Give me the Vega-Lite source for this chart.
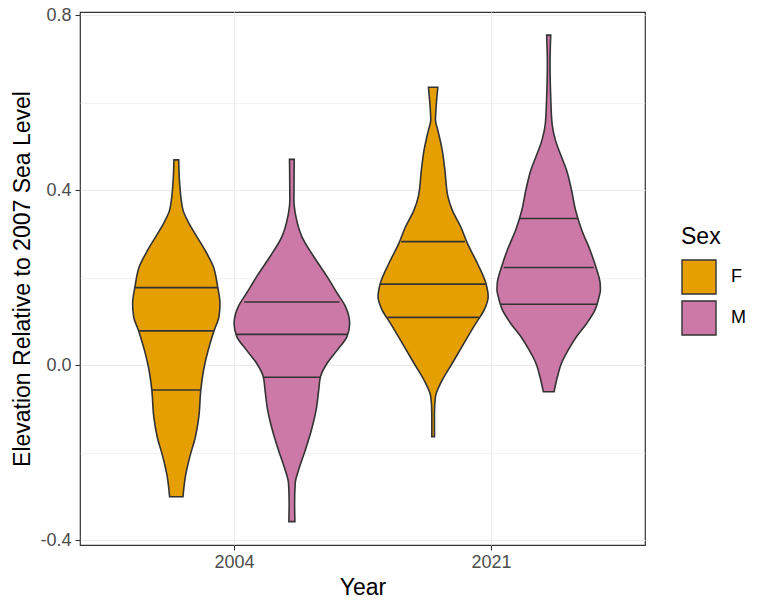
{
  "$schema": "https://vega.github.io/schema/vega-lite/v6.json",
  "width": 565,
  "height": 533,
  "autosize": "none",
  "padding": {"left": 80, "top": 12, "right": 123, "bottom": 69},
  "background": "white",
  "config": {
    "font": "Liberation Sans",
    "view": {"stroke": "#333333", "strokeWidth": 1.2},
    "axis": {
      "domain": false,
      "gridColor": "#ebebeb",
      "tickColor": "#333333",
      "tickSize": 5,
      "tickWidth": 1.1,
      "labelColor": "#4d4d4d",
      "labelFontSize": 18,
      "titleFontSize": 23,
      "titleFontWeight": "normal",
      "titleColor": "#000000"
    }
  },
  "datasets": {
    "violin": [
      {"Year": "2004", "Sex": "F", "elev": 0.469, "density": 0.041},
      {"Year": "2004", "Sex": "F", "elev": 0.415, "density": 0.058},
      {"Year": "2004", "Sex": "F", "elev": 0.354, "density": 0.116},
      {"Year": "2004", "Sex": "F", "elev": 0.328, "density": 0.203},
      {"Year": "2004", "Sex": "F", "elev": 0.301, "density": 0.320},
      {"Year": "2004", "Sex": "F", "elev": 0.263, "density": 0.494},
      {"Year": "2004", "Sex": "F", "elev": 0.225, "density": 0.640},
      {"Year": "2004", "Sex": "F", "elev": 0.179, "density": 0.715},
      {"Year": "2004", "Sex": "F", "elev": 0.141, "density": 0.756},
      {"Year": "2004", "Sex": "F", "elev": 0.110, "density": 0.738},
      {"Year": "2004", "Sex": "F", "elev": 0.080, "density": 0.657},
      {"Year": "2004", "Sex": "F", "elev": 0.034, "density": 0.552},
      {"Year": "2004", "Sex": "F", "elev": -0.004, "density": 0.483},
      {"Year": "2004", "Sex": "F", "elev": -0.057, "density": 0.424},
      {"Year": "2004", "Sex": "F", "elev": -0.118, "density": 0.390},
      {"Year": "2004", "Sex": "F", "elev": -0.164, "density": 0.331},
      {"Year": "2004", "Sex": "F", "elev": -0.210, "density": 0.233},
      {"Year": "2004", "Sex": "F", "elev": -0.255, "density": 0.157},
      {"Year": "2004", "Sex": "F", "elev": -0.301, "density": 0.116},
      {"Year": "2004", "Sex": "M", "elev": 0.470, "density": 0.041},
      {"Year": "2004", "Sex": "M", "elev": 0.377, "density": 0.035},
      {"Year": "2004", "Sex": "M", "elev": 0.339, "density": 0.070},
      {"Year": "2004", "Sex": "M", "elev": 0.293, "density": 0.174},
      {"Year": "2004", "Sex": "M", "elev": 0.248, "density": 0.378},
      {"Year": "2004", "Sex": "M", "elev": 0.202, "density": 0.610},
      {"Year": "2004", "Sex": "M", "elev": 0.164, "density": 0.785},
      {"Year": "2004", "Sex": "M", "elev": 0.133, "density": 0.930},
      {"Year": "2004", "Sex": "M", "elev": 0.095, "density": 1.000},
      {"Year": "2004", "Sex": "M", "elev": 0.065, "density": 0.953},
      {"Year": "2004", "Sex": "M", "elev": 0.034, "density": 0.785},
      {"Year": "2004", "Sex": "M", "elev": 0.004, "density": 0.610},
      {"Year": "2004", "Sex": "M", "elev": -0.027, "density": 0.494},
      {"Year": "2004", "Sex": "M", "elev": -0.057, "density": 0.465},
      {"Year": "2004", "Sex": "M", "elev": -0.103, "density": 0.419},
      {"Year": "2004", "Sex": "M", "elev": -0.149, "density": 0.337},
      {"Year": "2004", "Sex": "M", "elev": -0.194, "density": 0.233},
      {"Year": "2004", "Sex": "M", "elev": -0.240, "density": 0.116},
      {"Year": "2004", "Sex": "M", "elev": -0.270, "density": 0.058},
      {"Year": "2004", "Sex": "M", "elev": -0.316, "density": 0.047},
      {"Year": "2004", "Sex": "M", "elev": -0.358, "density": 0.052},
      {"Year": "2021", "Sex": "F", "elev": 0.635, "density": 0.081},
      {"Year": "2021", "Sex": "F", "elev": 0.590, "density": 0.052},
      {"Year": "2021", "Sex": "F", "elev": 0.560, "density": 0.041},
      {"Year": "2021", "Sex": "F", "elev": 0.537, "density": 0.081},
      {"Year": "2021", "Sex": "F", "elev": 0.491, "density": 0.157},
      {"Year": "2021", "Sex": "F", "elev": 0.446, "density": 0.203},
      {"Year": "2021", "Sex": "F", "elev": 0.385, "density": 0.256},
      {"Year": "2021", "Sex": "F", "elev": 0.354, "density": 0.331},
      {"Year": "2021", "Sex": "F", "elev": 0.316, "density": 0.477},
      {"Year": "2021", "Sex": "F", "elev": 0.278, "density": 0.593},
      {"Year": "2021", "Sex": "F", "elev": 0.232, "density": 0.767},
      {"Year": "2021", "Sex": "F", "elev": 0.187, "density": 0.913},
      {"Year": "2021", "Sex": "F", "elev": 0.156, "density": 0.953},
      {"Year": "2021", "Sex": "F", "elev": 0.126, "density": 0.884},
      {"Year": "2021", "Sex": "F", "elev": 0.095, "density": 0.738},
      {"Year": "2021", "Sex": "F", "elev": 0.050, "density": 0.535},
      {"Year": "2021", "Sex": "F", "elev": 0.004, "density": 0.331},
      {"Year": "2021", "Sex": "F", "elev": -0.042, "density": 0.128},
      {"Year": "2021", "Sex": "F", "elev": -0.072, "density": 0.041},
      {"Year": "2021", "Sex": "F", "elev": -0.110, "density": 0.023},
      {"Year": "2021", "Sex": "F", "elev": -0.164, "density": 0.023},
      {"Year": "2021", "Sex": "M", "elev": 0.754, "density": 0.035},
      {"Year": "2021", "Sex": "M", "elev": 0.690, "density": 0.023},
      {"Year": "2021", "Sex": "M", "elev": 0.613, "density": 0.035},
      {"Year": "2021", "Sex": "M", "elev": 0.552, "density": 0.058},
      {"Year": "2021", "Sex": "M", "elev": 0.514, "density": 0.116},
      {"Year": "2021", "Sex": "M", "elev": 0.476, "density": 0.221},
      {"Year": "2021", "Sex": "M", "elev": 0.446, "density": 0.308},
      {"Year": "2021", "Sex": "M", "elev": 0.400, "density": 0.395},
      {"Year": "2021", "Sex": "M", "elev": 0.354, "density": 0.465},
      {"Year": "2021", "Sex": "M", "elev": 0.309, "density": 0.570},
      {"Year": "2021", "Sex": "M", "elev": 0.263, "density": 0.715},
      {"Year": "2021", "Sex": "M", "elev": 0.225, "density": 0.814},
      {"Year": "2021", "Sex": "M", "elev": 0.187, "density": 0.890},
      {"Year": "2021", "Sex": "M", "elev": 0.171, "density": 0.895},
      {"Year": "2021", "Sex": "M", "elev": 0.156, "density": 0.872},
      {"Year": "2021", "Sex": "M", "elev": 0.126, "density": 0.802},
      {"Year": "2021", "Sex": "M", "elev": 0.095, "density": 0.657},
      {"Year": "2021", "Sex": "M", "elev": 0.065, "density": 0.483},
      {"Year": "2021", "Sex": "M", "elev": 0.034, "density": 0.337},
      {"Year": "2021", "Sex": "M", "elev": 0.004, "density": 0.221},
      {"Year": "2021", "Sex": "M", "elev": -0.027, "density": 0.151},
      {"Year": "2021", "Sex": "M", "elev": -0.061, "density": 0.093}
    ],
    "quantiles": [
      {"Year": "2004", "Sex": "F", "elev": 0.177, "density": 0.721},
      {"Year": "2004", "Sex": "F", "elev": 0.078, "density": 0.651},
      {"Year": "2004", "Sex": "F", "elev": -0.057, "density": 0.424},
      {"Year": "2004", "Sex": "M", "elev": 0.144, "density": 0.826},
      {"Year": "2004", "Sex": "M", "elev": 0.070, "density": 0.971},
      {"Year": "2004", "Sex": "M", "elev": -0.028, "density": 0.494},
      {"Year": "2021", "Sex": "F", "elev": 0.282, "density": 0.552},
      {"Year": "2021", "Sex": "F", "elev": 0.185, "density": 0.913},
      {"Year": "2021", "Sex": "F", "elev": 0.109, "density": 0.791},
      {"Year": "2021", "Sex": "M", "elev": 0.335, "density": 0.506},
      {"Year": "2021", "Sex": "M", "elev": 0.223, "density": 0.779},
      {"Year": "2021", "Sex": "M", "elev": 0.139, "density": 0.843}
    ]
  },
  "layer": [
    {
      "data": {"name": "violin"},
      "transform": [
        {"calculate": "(datum.Year == '2004' ? 1 : 2) + (datum.Sex == 'F' ? -0.225 : 0.225)", "as": "pos"},
        {"calculate": "datum.pos - datum.density * 0.225", "as": "lo"},
        {"calculate": "datum.pos + datum.density * 0.225", "as": "hi"}
      ],
      "mark": {"type": "area", "orient": "horizontal", "interpolate": "monotone", "stroke": "#333333", "strokeWidth": 1.6, "opacity": 1},
      "encoding": {
        "y": {
          "field": "elev",
          "type": "quantitative",
          "title": "Elevation Relative to 2007 Sea Level",
          "scale": {"domain": [-0.4114, 0.8069], "nice": false, "zero": false},
          "axis": {
            "values": [-0.4, -0.2, 0, 0.2, 0.4, 0.6, 0.8],
            "labelExpr": "round(datum.value * 10) % 4 == 0 ? replace(format(datum.value, '.1f'), '\u2212', '-') : ''",
            "tickOpacity": {"condition": {"test": "round(datum.value * 10) % 4 == 0", "value": 1}, "value": 0},
            "gridWidth": {"condition": {"test": "round(datum.value * 10) % 4 == 0", "value": 1}, "value": 0.6},
            "labelPadding": 4,
            "titlePadding": 5
          }
        },
        "x": {
          "field": "lo",
          "type": "quantitative",
          "title": "Year",
          "scale": {"domain": [0.4, 2.6], "nice": false, "zero": false},
          "axis": {
            "values": [1, 2],
            "labelExpr": "datum.value == 1 ? '2004' : '2021'",
            "labelPadding": 3,
            "titlePadding": 5
          }
        },
        "x2": {"field": "hi"},
        "color": {
          "field": "Sex",
          "type": "nominal",
          "scale": {"domain": ["F", "M"], "range": ["#E69F00", "#CC79A7"]},
          "legend": {
            "title": "Sex",
            "orient": "none",
            "legendX": 601,
            "legendY": 214,
            "symbolType": "square",
            "symbolSize": 1156,
            "symbolStrokeColor": "#333333",
            "symbolStrokeWidth": 1.4,
            "symbolOpacity": 1,
            "titleFontSize": 23,
            "titleFontWeight": "normal",
            "titleColor": "#000000",
            "labelFontSize": 18,
            "labelColor": "#000000",
            "rowPadding": 1,
            "labelOffset": 14,
            "titlePadding": 10
          }
        },
        "detail": {"field": "Year"}
      }
    },
    {
      "data": {"name": "quantiles"},
      "transform": [
        {"calculate": "(datum.Year == '2004' ? 1 : 2) + (datum.Sex == 'F' ? -0.225 : 0.225)", "as": "pos"},
        {"calculate": "datum.pos - datum.density * 0.225", "as": "lo"},
        {"calculate": "datum.pos + datum.density * 0.225", "as": "hi"}
      ],
      "mark": {"type": "rule", "color": "#333333", "strokeWidth": 1.6},
      "encoding": {
        "y": {"field": "elev", "type": "quantitative"},
        "x": {"field": "lo", "type": "quantitative"},
        "x2": {"field": "hi"}
      }
    }
  ]
}
